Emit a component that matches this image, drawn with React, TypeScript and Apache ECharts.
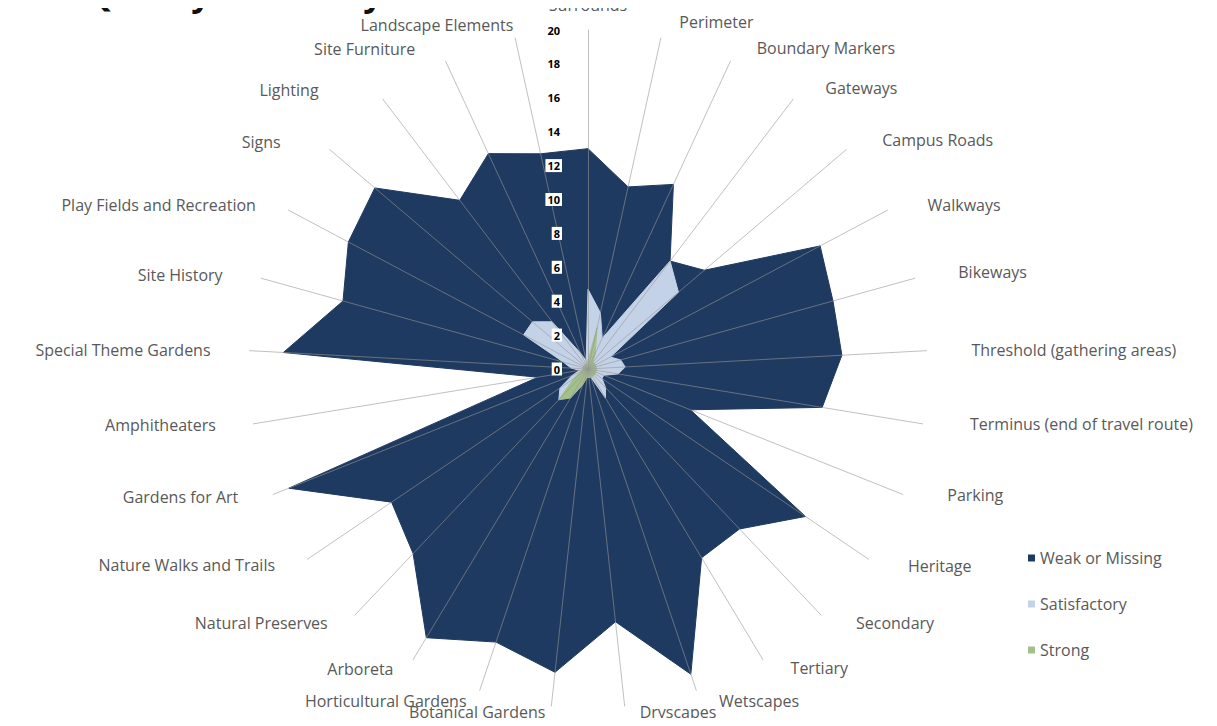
import React, { useEffect, useRef } from "react";
import * as echarts from "echarts";

const categories = [
  "Surrounds",
  "Perimeter",
  "Boundary Markers",
  "Gateways",
  "Campus Roads",
  "Walkways",
  "Bikeways",
  "Threshold (gathering areas)",
  "Terminus (end of travel route)",
  "Parking",
  "Heritage",
  "Secondary",
  "Tertiary",
  "Wetscapes",
  "Dryscapes",
  "Botanical Gardens",
  "Horticultural Gardens",
  "Arboreta",
  "Natural Preserves",
  "Nature Walks and Trails",
  "Gardens for Art",
  "Amphitheaters",
  "Special Theme Gardens",
  "Site History",
  "Play Fields and Recreation",
  "Signs",
  "Lighting",
  "Site Furniture",
  "Landscape Elements",
];

const weakValues = [
  13, 11, 12, 8, 9, 15.5, 15, 15, 14, 6.5, 15.5, 13, 13, 19, 15, 18, 17, 18.5,
  15, 14, 19, 3, 18, 15, 16, 16.5, 12.5, 14, 13,
];

const satisfactoryValues = [
  4.7, 3.4, 2, 8, 7, 1.5, 2, 2.2, 1.8, 1, 1, 1.5, 2, 0.5, 0.5, 0.5, 0.5, 1, 2.5,
  2, 1, 0.5, 1, 1.5, 4.3, 4.3, 3.5, 1, 0.5,
];

const strongValues = [
  0.5, 2.5, 1, 0.5, 0.5, 0.5, 0.5, 0.5, 0.5, 0.5, 0.5, 0.5, 0.5, 0.5, 0.5, 0.5,
  1, 2, 2.5, 1, 0.5, 0.3, 0.3, 0.3, 0.3, 0.3, 0.3, 0.3, 0.3,
];

const seriesNames = ["Weak or Missing", "Satisfactory", "Strong"];
const axisMax = 20;
const titleText = "Site Quality Summary";

// layout only: gap between the end of each spoke and its label
const nameGaps = [
  17, 16, 20, 25, 30, 34, 38, 40, 42, 37, 33, 26, 19, 15, 9, 8, 10, 15, 22,
  27, 31, 34, 35, 35, 29, 42, 45, 20, 8,
];

// layout only: extra label shift [dx, dy] in pixels
const labelShifts = [
  [0, 0], [15, 0], [18, 5], [17, 9], [13, 10], [10, 11], [7, 4], [5, 2],
  [6, -7], [10, -13], [12, -12], [17, -11], [18, -8], [18, -3], [14, -3],
  [-5, -2], [-10, 1], [-12, -3], [-12, -8], [-10, -9], [-6, -9], [-4, -4],
  [-4, 1], [-5, 6], [-7, 8], [-17, 20], [-37, 27], [-22, 6], [0, -5],
];

const colors = ["#1F3A60", "#C4D2E7", "#A3BF8A"];

export default function App() {
  const ref = useRef<HTMLDivElement>(null);

  useEffect(() => {
    if (!ref.current) return;
    const chart = echarts.init(ref.current, undefined, { renderer: "svg" });

    // ECharts lays radar indicators out counter-clockwise; the reference runs
    // clockwise, so keep the first one and reverse the rest.
    const order = [0, ...categories.map((_, i) => i).slice(1).reverse()];

    const indicator = order.map((i) => {
      const [dx, dy] = labelShifts[i];
      const left = dx > 0 ? dx : 0;
      const right = dx < 0 ? -dx : 0;
      const nameTextStyle: any = { padding: [0, right, 0, left] };
      if (i !== 0 && dy !== 0) {
        nameTextStyle.verticalAlign = dy > 0 ? "top" : "bottom";
        nameTextStyle.lineHeight = Math.abs(dy) * 2;
      }
      const item: any = {
        name: categories[i],
        max: axisMax,
        min: 0,
        nameGap: nameGaps[i],
        nameTextStyle,
      };
      if (i === 0) {
        item.axisLabel = {
          show: true,
          color: "#000",
          fontSize: 11,
          fontWeight: "bold",
          fontFamily: "Open Sans",
          backgroundColor: "#ffffff",
          padding: [1, 2],
          margin: 26,
          showMaxLabel: true,
        };
      }
      return item;
    });

    const valuesList = [weakValues, satisfactoryValues, strongValues];

    chart.setOption({
      animation: false,
      title: {
        text: titleText,
        left: 0,
        top: -37,
        textStyle: {
          fontFamily: "Open Sans",
          fontSize: 34,
          fontWeight: "bold",
          color: "#111",
        },
      },
      legend: {
        orient: "vertical",
        left: 1015,
        top: 537,
        itemGap: 30,
        itemWidth: 7,
        itemHeight: 7,
        icon: "rect",
        data: seriesNames,
        textStyle: {
          fontFamily: "Open Sans",
          fontSize: 16,
          color: "#595959",
        },
      },
      radar: {
        center: [580, 361],
        radius: 339,
        startAngle: 90,
        splitNumber: 10,
        z: 3,
        indicator,
        axisName: {
          color: "#595959",
          fontFamily: "Open Sans",
          fontSize: 16,
        },
        axisLine: {
          show: true,
          lineStyle: { color: "rgba(150,150,150,0.6)", width: 1 },
        },
        axisTick: { show: false },
        axisLabel: { show: false },
        splitLine: { show: false },
        splitArea: { show: false },
      },
      series: [
        {
          type: "radar",
          z: 2,
          symbol: "none",
          data: valuesList.map((values, i) => ({
            name: seriesNames[i],
            value: order.map((k) => values[k]),
            itemStyle: { color: colors[i] },
            lineStyle: { color: colors[i], width: 1 },
            areaStyle: { color: colors[i], opacity: 1 },
          })),
        },
      ],
    });

    return () => chart.dispose();
  }, []);

  return <div ref={ref} style={{ width: 1201, height: 710 }} />;
}
